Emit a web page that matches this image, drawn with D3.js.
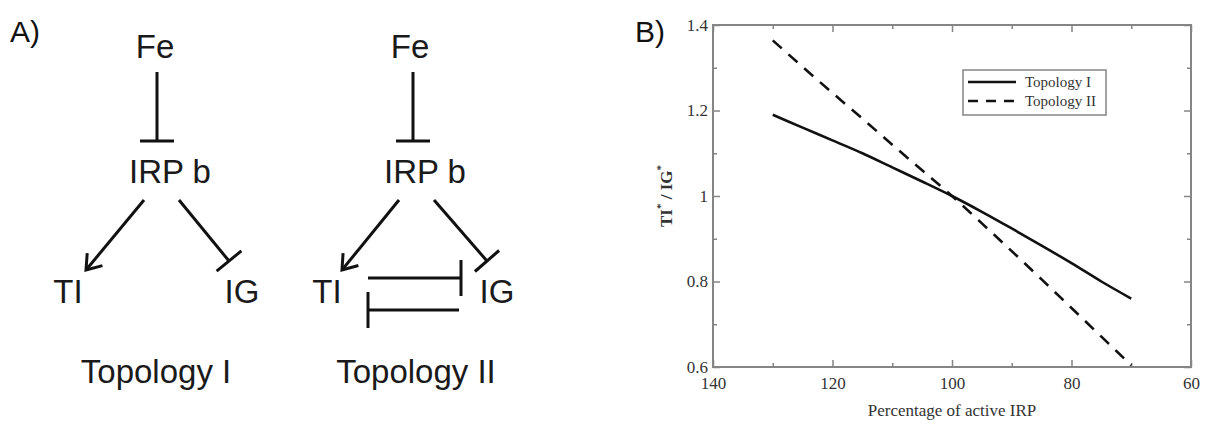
<!DOCTYPE html>
<html>
<head>
<meta charset="utf-8">
<script src="https://cdn.jsdelivr.net/npm/d3@7"></script>
<style>
  body { margin: 0; background: #fff; }
  svg { display: block; }
</style>
</head>
<body>
<svg></svg>
<script>
// ---- data (panel B) ----
let pctIRP = [130, 125, 120, 115, 110, 105, 100, 95, 90, 85, 80, 75, 70]
let topologyI = [1.19, 1.16, 1.13, 1.10, 1.067, 1.034, 1.0, 0.963, 0.924, 0.884, 0.843, 0.80, 0.76]
let topologyII = [1.364, 1.302, 1.241, 1.181, 1.12, 1.06, 1.0, 0.936, 0.871, 0.805, 0.738, 0.671, 0.604]
let seriesNames = ['Topology I', 'Topology II']
let xMajorTicks = [140, 120, 100, 80, 60]
let xMinorTicks = [130, 110, 90, 70]
let yMajorTicks = [0.6, 0.8, 1, 1.2, 1.4]
let yMinorTicks = [0.7, 0.9, 1.1, 1.3]

// ---- data (panel A labels) ----
let topologyTitles = ['Topology I', 'Topology II']
let nodeLabels = ['Fe', 'IRP b', 'TI', 'IG']

let width = 1205
let height = 426

let svg = d3.select('svg')
    .attr('width', width)
    .attr('height', height)

svg.append('rect').attr('width', width).attr('height', height).attr('fill', '#fff')

// ================= Panel A : network diagrams =================
let sans = "'Liberation Sans', Arial, sans-serif"
let ink = '#111'

svg.append('text')
    .attr('x', 10).attr('y', 42)
    .attr('font-family', sans).attr('font-size', 30)
    .attr('fill', ink)
    .text('A)')

// layout for the two diagrams (node anchor points)
let diagrams = [
    {
        title: topologyTitles[0], titleX: 156,
        fe: [155, 58], irp: [170, 183], ti: [68, 303], ig: [242, 303],
        feLine: [157, 72, 157, 141],
        toTI: [144, 200, 86, 270],
        toIG: [179, 200, 229, 261],
        mutual: false
    },
    {
        title: topologyTitles[1], titleX: 416,
        fe: [410, 58], irp: [425, 183], ti: [327, 303], ig: [497, 303],
        feLine: [413, 72, 413, 141],
        toTI: [399, 200, 342, 270],
        toIG: [434, 200, 487, 261],
        mutual: true
    }
]

let arrowHead = (g, x1, y1, x2, y2) => {
    let a = Math.atan2(y1 - y2, x1 - x2)
    let len = 17, spread = 0.62
    let p = d3.path()
    p.moveTo(x2 + len * Math.cos(a - spread), y2 + len * Math.sin(a - spread))
    p.lineTo(x2, y2)
    p.lineTo(x2 + len * Math.cos(a + spread), y2 + len * Math.sin(a + spread))
    g.append('path').attr('d', p.toString())
        .attr('fill', 'none').attr('stroke', ink).attr('stroke-width', 3)
        .attr('stroke-linejoin', 'miter')
}

let barHead = (g, x1, y1, x2, y2, half) => {
    let a = Math.atan2(y2 - y1, x2 - x1) + Math.PI / 2
    g.append('line')
        .attr('x1', x2 - half * Math.cos(a)).attr('y1', y2 - half * Math.sin(a))
        .attr('x2', x2 + half * Math.cos(a)).attr('y2', y2 + half * Math.sin(a))
        .attr('stroke', ink).attr('stroke-width', 3)
}

let segment = (g, c) => {
    g.append('line')
        .attr('x1', c[0]).attr('y1', c[1]).attr('x2', c[2]).attr('y2', c[3])
        .attr('stroke', ink).attr('stroke-width', 3)
}

diagrams.forEach((d) => {
    let g = svg.append('g')
    let label = (pos, txt) => g.append('text')
        .attr('x', pos[0]).attr('y', pos[1])
        .attr('text-anchor', 'middle')
        .attr('font-family', sans).attr('font-size', 33)
        .attr('fill', '#1a1a1a')
        .text(txt)
    label(d.fe, nodeLabels[0])
    label(d.irp, nodeLabels[1])
    label(d.ti, nodeLabels[2])
    label(d.ig, nodeLabels[3])
    label([d.titleX, 383], d.title)

    segment(g, d.feLine)
    barHead(g, ...d.feLine, 17)
    segment(g, d.toTI)
    arrowHead(g, ...d.toTI)
    segment(g, d.toIG)
    barHead(g, ...d.toIG, 16)

    if (d.mutual) {
        let upper = [368, 278, 461, 278]
        let lower = [459, 310, 368, 310]
        segment(g, upper)
        barHead(g, ...upper, 18)
        segment(g, lower)
        barHead(g, ...lower, 18)
    }
})

// ================= Panel B : line chart =================
let serif = "'Liberation Serif', 'Times New Roman', serif"
let frame = '#858585'

svg.append('text')
    .attr('x', 635).attr('y', 42)
    .attr('font-family', sans).attr('font-size', 30)
    .attr('fill', ink)
    .text('B)')

let plotLeft = 713, plotRight = 1191, plotTop = 25, plotBottom = 367

let xScale = d3.scaleLinear().domain([140, 60]).range([plotLeft, plotRight])
let yScale = d3.scaleLinear().domain([0.6, 1.4]).range([plotBottom, plotTop])

let styleAxis = (g) => {
    g.select('.domain').remove()
    g.selectAll('.tick line').attr('stroke', frame).attr('stroke-width', 1.5)
    g.selectAll('.tick text')
        .attr('font-family', serif).attr('font-size', 17).attr('fill', '#333')
}

// major ticks with labels
svg.append('g')
    .attr('transform', 'translate(0,' + plotBottom + ')')
    .call(d3.axisBottom(xScale).tickValues(xMajorTicks).tickSize(-7).tickPadding(10)
        .tickFormat(d3.format('d')))
    .call(styleAxis)
svg.append('g')
    .attr('transform', 'translate(' + plotLeft + ',0)')
    .call(d3.axisLeft(yScale).tickValues(yMajorTicks).tickSize(-7).tickPadding(5)
        .tickFormat(d3.format('~g')))
    .call(styleAxis)
// mirrored ticks on top and right
svg.append('g')
    .attr('transform', 'translate(0,' + plotTop + ')')
    .call(d3.axisTop(xScale).tickValues(xMajorTicks).tickSize(-7).tickFormat(''))
    .call(styleAxis)
svg.append('g')
    .attr('transform', 'translate(' + plotRight + ',0)')
    .call(d3.axisRight(yScale).tickValues(yMajorTicks).tickSize(-7).tickFormat(''))
    .call(styleAxis)
// minor ticks
svg.append('g')
    .attr('transform', 'translate(0,' + plotBottom + ')')
    .call(d3.axisBottom(xScale).tickValues(xMinorTicks).tickSize(-4).tickFormat(''))
    .call(styleAxis)
svg.append('g')
    .attr('transform', 'translate(0,' + plotTop + ')')
    .call(d3.axisTop(xScale).tickValues(xMinorTicks).tickSize(-4).tickFormat(''))
    .call(styleAxis)
svg.append('g')
    .attr('transform', 'translate(' + plotLeft + ',0)')
    .call(d3.axisLeft(yScale).tickValues(yMinorTicks).tickSize(-4).tickFormat(''))
    .call(styleAxis)
svg.append('g')
    .attr('transform', 'translate(' + plotRight + ',0)')
    .call(d3.axisRight(yScale).tickValues(yMinorTicks).tickSize(-4).tickFormat(''))
    .call(styleAxis)

// frame
svg.append('rect')
    .attr('x', plotLeft).attr('y', plotTop)
    .attr('width', plotRight - plotLeft).attr('height', plotBottom - plotTop)
    .attr('fill', 'none').attr('stroke', frame).attr('stroke-width', 2)

// curves
let line = d3.line()
    .x((d) => xScale(d[0]))
    .y((d) => yScale(d[1]))
    .curve(d3.curveMonotoneX)

let series = [
    { name: seriesNames[0], values: topologyI, dash: null },
    { name: seriesNames[1], values: topologyII, dash: '12,9' }
]

svg.selectAll('.curve')
    .data(series)
    .enter()
    .append('path')
    .attr('class', 'curve')
    .attr('d', (s) => line(pctIRP.map((p, i) => [p, s.values[i]])))
    .attr('fill', 'none')
    .attr('stroke', '#111')
    .attr('stroke-width', 2.6)
    .attr('stroke-dasharray', (s) => s.dash)

// axis titles
svg.append('text')
    .attr('x', (plotLeft + plotRight) / 2).attr('y', 416)
    .attr('text-anchor', 'middle')
    .attr('font-family', serif).attr('font-size', 17).attr('fill', '#333')
    .text('Percentage of active IRP')

let yTitle = svg.append('text')
    .attr('transform', 'translate(672,' + yScale(1) + ') rotate(-90)')
    .attr('text-anchor', 'middle')
    .attr('font-family', serif).attr('font-size', 17).attr('font-weight', 'bold')
    .attr('fill', '#333')
yTitle.append('tspan').text('TI')
yTitle.append('tspan').attr('dy', -8).attr('font-size', 11).text('*')
yTitle.append('tspan').attr('dy', 8).text(' / IG')
yTitle.append('tspan').attr('dy', -8).attr('font-size', 11).text('*')

// legend
let legend = svg.append('g')
legend.append('rect')
    .attr('x', 963).attr('y', 70).attr('width', 143).attr('height', 45)
    .attr('fill', '#fff').attr('stroke', frame).attr('stroke-width', 1.5)

let legendRows = legend.selectAll('.row')
    .data(series)
    .enter()
    .append('g')
    .attr('class', 'row')
    .attr('transform', (s, i) => 'translate(0,' + (82 + i * 19) + ')')
legendRows.append('line')
    .attr('x1', 968).attr('x2', 1016).attr('y1', 0).attr('y2', 0)
    .attr('stroke', '#111').attr('stroke-width', 2.6)
    .attr('stroke-dasharray', (s) => s.dash ? '10,8' : null)
legendRows.append('text')
    .attr('x', 1025).attr('y', 5)
    .attr('font-family', serif).attr('font-size', 15).attr('fill', '#333')
    .text((s) => s.name)
</script>
</body>
</html>
